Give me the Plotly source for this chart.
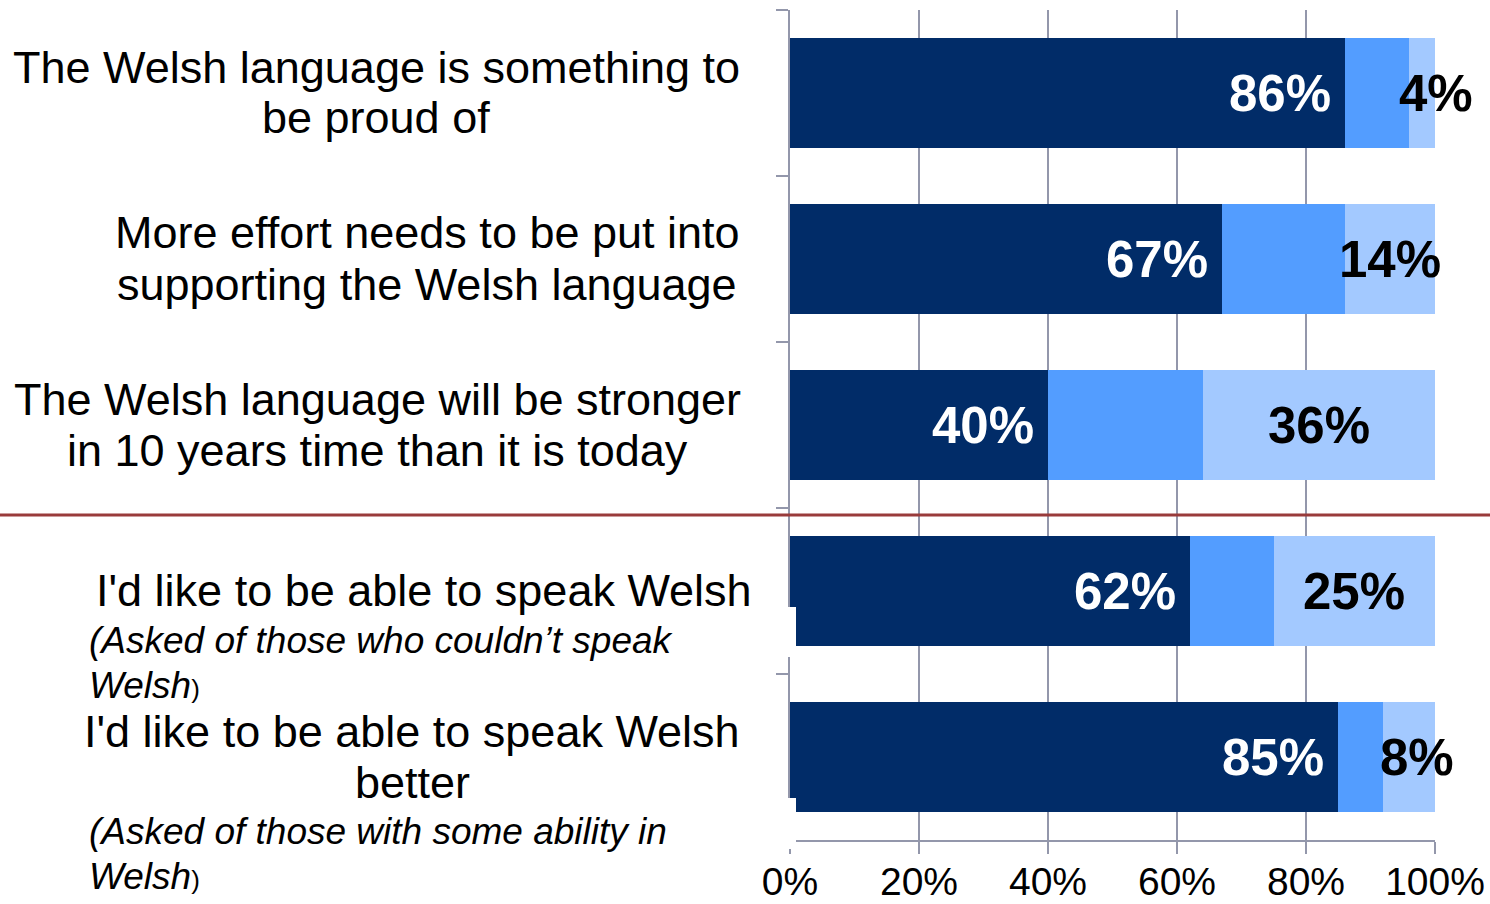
import plotly.graph_objects as go

# Survey statements (top to bottom) and the share giving each answer, in %
statements = [
    "The Welsh language is something to be proud of",
    "More effort needs to be put into supporting the Welsh language",
    "The Welsh language will be stronger in 10 years time than it is today",
    "I'd like to be able to speak Welsh (non-speakers)",
    "I'd like to be able to speak Welsh better (some ability)",
]
agree = [86, 67, 40, 62, 85]
neutral = [10, 19, 24, 13, 7]
disagree = [4, 14, 36, 25, 8]

x_ticks = [0, 20, 40, 60, 80, 100]
x_tick_text = ["0%", "20%", "40%", "60%", "80%", "100%"]

DARK = "#012C68"
MID = "#539DFF"
LIGHT = "#A3C9FF"
GRID = "#9397AB"
RULE = "#993B3B"
FONT = "Liberation Sans, Arial, sans-serif"

W, H = 1490, 904
ML, MR, MT, MB = 790, 55, 10, 64
PW = W - ML - MR
PH = H - MT - MB


def px_x(px):
    """Horizontal page pixel -> paper fraction."""
    return (px - ML) / PW


def px_y(py):
    """Vertical page pixel -> paper fraction."""
    return (H - MB - py) / PH


ypos = list(range(len(statements)))

fig = go.Figure()
for vals, col, name in [(agree, DARK, "Agree"), (neutral, MID, "Neither"),
                        (disagree, LIGHT, "Disagree")]:
    fig.add_trace(go.Bar(
        y=ypos, x=vals, orientation="h", name=name,
        marker=dict(color=col, line=dict(width=0)),
        width=0.66, hoverinfo="skip",
    ))

annotations = []
# value labels: agree at the inner end of the dark segment, disagree centred
for i, (a, d) in enumerate(zip(agree, disagree)):
    annotations.append(dict(
        x=a, y=i, xref="x", yref="y", text=f"<b>{a}%</b>", showarrow=False,
        xanchor="right", yanchor="middle", xshift=-12,
        font=dict(family=FONT, size=51, color="white"),
    ))
    annotations.append(dict(
        x=100 - d / 2, y=i, xref="x", yref="y", text=f"<b>{d}%</b>",
        showarrow=False, xanchor="center", yanchor="middle",
        xshift=(14 if d < 5 else 8) if d < 10 else 0,
        font=dict(family=FONT, size=51, color="black"),
    ))

# category labels, line by line
label_lines = [
    # (category index, text, centre/left x px, y offset px, left-aligned?)
    (0, "The Welsh language is something to", 376, -26, False),
    (0, "be proud of", 376, 24, False),
    (1, "More effort needs to be put into", 427, -27, False),
    (1, "supporting the Welsh language", 427, 25, False),
    (2, "The Welsh language will be stronger", 377, -26, False),
    (2, "in 10 years time than it is today", 377, 25, False),
    (3, "I'd like to be able to speak Welsh", 424, -1, False),
    (3, "<i>(Asked of those who couldn’t speak</i>", 87, 49, True),
    (3, "<i>Welsh</i><span style='font-size:26px'>)</span>", 87, 94, True),
    (4, "I'd like to be able to speak Welsh", 412, -26, False),
    (4, "better", 412, 25, False),
    (4, "<i>(Asked of those with some ability in</i>", 87, 74, True),
    (4, "<i>Welsh</i><span style='font-size:26px'>)</span>", 87, 119, True),
]
for idx, txt, cx, dy, left in label_lines:
    annotations.append(dict(
        x=px_x(cx), y=idx, xref="paper", yref="y", text=txt, showarrow=False,
        xanchor="left" if left else "center", yanchor="middle", yshift=-dy,
        font=dict(family=FONT, size=37 if left else 45, color="black"),
    ))

shapes = [
    # divider between the attitude statements and the ability questions
    dict(type="line", xref="paper", yref="paper",
         x0=px_x(0), x1=px_x(W), y0=px_y(515), y1=px_y(515),
         line=dict(color=RULE, width=3), layer="above"),
    # white label boxes overlapping the axis edge
    dict(type="rect", xref="paper", yref="paper",
         x0=px_x(776), x1=px_x(796), y0=px_y(657), y1=px_y(607),
         fillcolor="white", line=dict(width=0), layer="above"),
    dict(type="rect", xref="paper", yref="paper",
         x0=px_x(776), x1=px_x(796), y0=px_y(849), y1=px_y(798),
         fillcolor="white", line=dict(width=0), layer="above"),
]

fig.update_layout(
    barmode="stack",
    width=W, height=H,
    margin=dict(l=ML, r=MR, t=MT, b=MB, pad=0, autoexpand=False),
    paper_bgcolor="white", plot_bgcolor="white",
    showlegend=False,
    font=dict(family=FONT, color="black"),
    annotations=annotations,
    shapes=shapes,
    xaxis=dict(
        range=[0, 100], tickvals=x_ticks, ticktext=x_tick_text,
        showgrid=True, gridcolor=GRID, gridwidth=2, zeroline=False,
        showline=True, linecolor=GRID, linewidth=2,
        ticks="outside", ticklen=12, tickwidth=2, tickcolor=GRID,
        tickfont=dict(family=FONT, size=39, color="black"),
        ticklabelstandoff=-6, fixedrange=True, automargin=False,
    ),
    yaxis=dict(
        range=[len(statements) - 0.5, -0.5],
        tickvals=[i - 0.5 for i in range(len(statements) + 1)],
        showticklabels=False, showgrid=False, zeroline=False,
        showline=True, linecolor=GRID, linewidth=2,
        ticks="outside", ticklen=12, tickwidth=2, tickcolor=GRID,
        fixedrange=True, automargin=False,
    ),
)

fig.write_html("out.html", config={"displayModeBar": False})
